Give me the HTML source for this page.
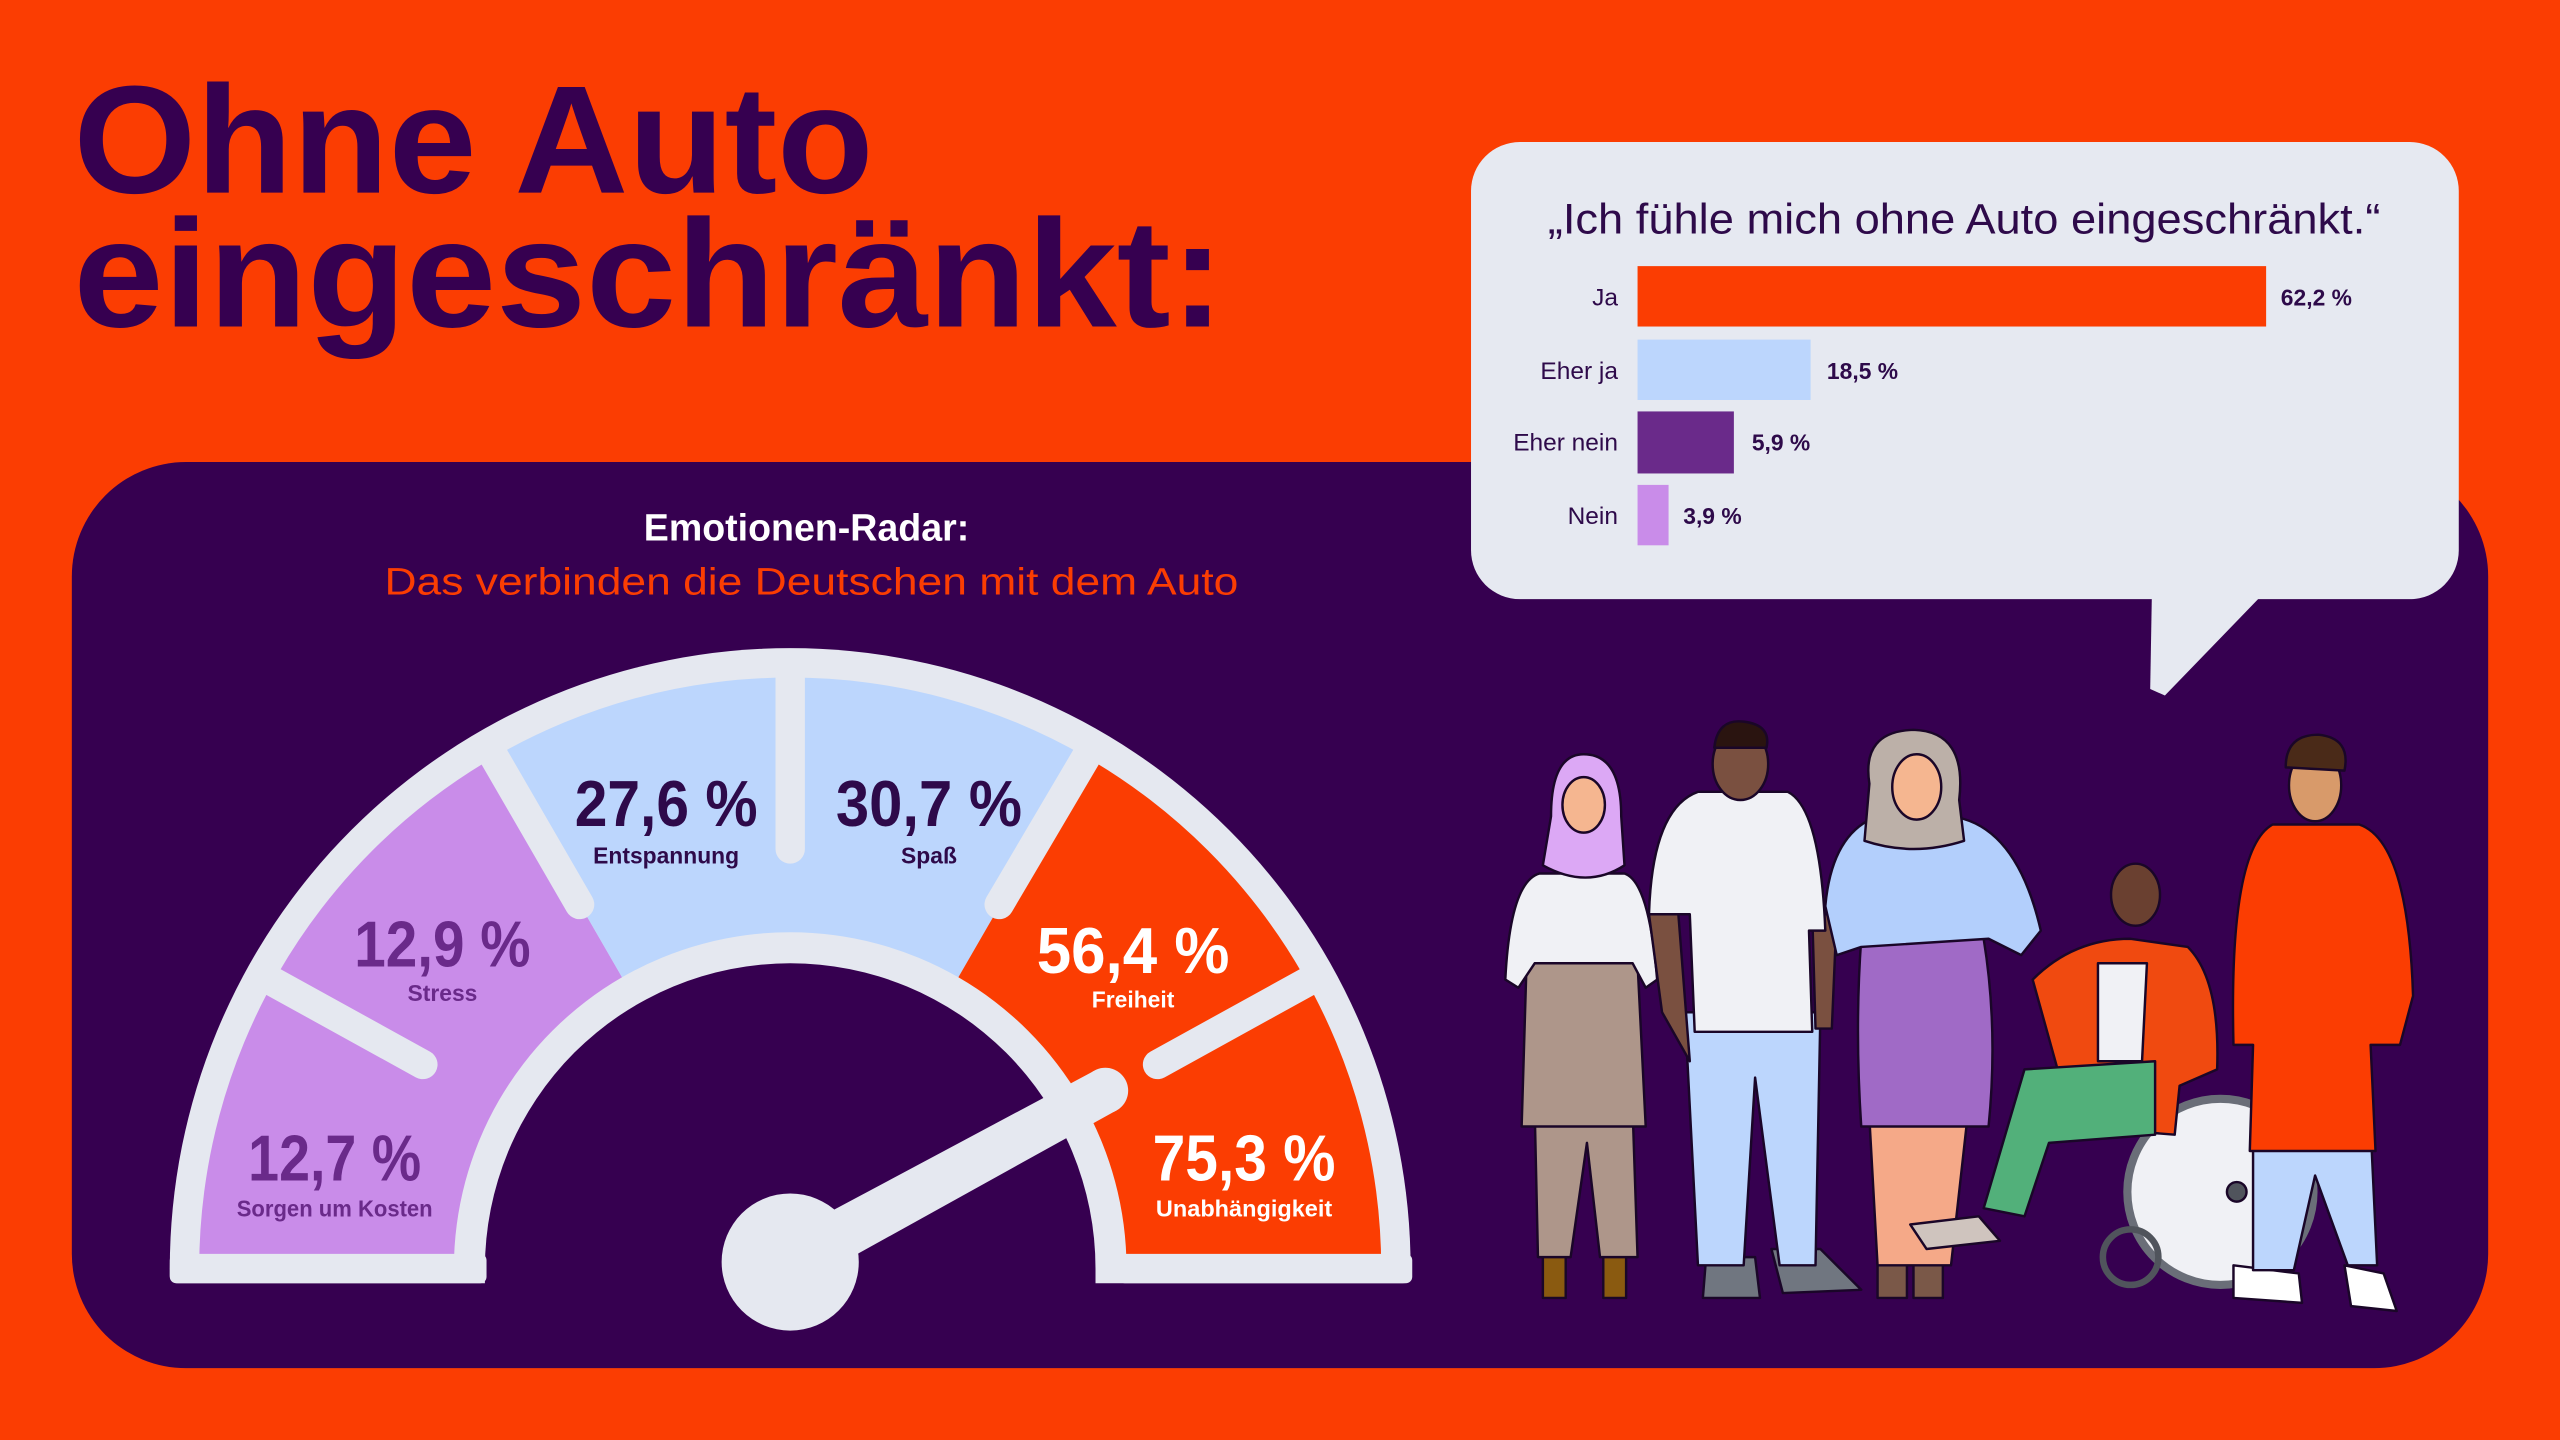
<!DOCTYPE html>
<html><head><meta charset="utf-8"><style>
html,body{margin:0;padding:0;background:#fb3d02;overflow:hidden;width:2560px;height:1440px;}
svg{display:block}
text{font-family:"Liberation Sans",sans-serif;}
</style></head><body>
<svg width="2560" height="1440" viewBox="0 0 1568 882" xmlns="http://www.w3.org/2000/svg">
<rect width="1568" height="882" fill="#fb3d02"/>
<text x="45" y="118" font-size="94" font-weight="bold" fill="#360050" textLength="490" lengthAdjust="spacingAndGlyphs">Ohne Auto</text>
<text x="45" y="200" font-size="94" font-weight="bold" fill="#360050" textLength="705" lengthAdjust="spacingAndGlyphs">eingeschränkt:</text>

<rect x="44" y="283" width="1480" height="555" rx="70" fill="#360050"/>

<!-- bubble -->
<rect x="901" y="87" width="605" height="280" rx="30" fill="#e6e9f1"/>
<polygon points="1318,365 1385,365 1326,426 1317,422" fill="#e6e9f1"/>
<text x="1203" y="143" font-size="26" fill="#2e0a4a" text-anchor="middle" textLength="510" lengthAdjust="spacingAndGlyphs">„Ich fühle mich ohne Auto eingeschränkt.“</text>
<g font-size="15" fill="#2e0a4a">
<rect x="1003" y="163" width="385" height="37" fill="#fb3d02"/>
<text x="991" y="187" text-anchor="end">Ja</text>
<text x="1397" y="187" font-weight="bold" font-size="14">62,2 %</text>
<rect x="1003" y="208" width="106" height="37" fill="#bcd6fd"/>
<text x="991" y="232" text-anchor="end">Eher ja</text>
<text x="1119" y="232" font-weight="bold" font-size="14">18,5 %</text>
<rect x="1003" y="252" width="59" height="38" fill="#6a2a8a"/>
<text x="991" y="276" text-anchor="end">Eher nein</text>
<text x="1073" y="276" font-weight="bold" font-size="14">5,9 %</text>
<rect x="1003" y="297" width="19" height="37" fill="#c98ce9"/>
<text x="991" y="321" text-anchor="end">Nein</text>
<text x="1031" y="321" font-weight="bold" font-size="14">3,9 %</text>
</g>

<text x="494" y="331" font-size="23" font-weight="bold" fill="#ffffff" text-anchor="middle">Emotionen-Radar:</text>
<text x="497" y="364" font-size="23" fill="#fb3d02" text-anchor="middle" textLength="523" lengthAdjust="spacingAndGlyphs">Das verbinden die Deutschen mit dem Auto</text>

<!-- gauge -->
<path d="M104,781 L104,777 A380,380 0 0 1 864,777 L864,781 Q864,786 859,786 L109,786 Q104,786 104,781 Z" fill="#e5e8f0"/>
<path d="M297,777 A187,187 0 0 1 671,777 L671,790 L297,790 Z" fill="#360050"/>
<path d="M122,777 A362,362 0 0 1 303,463.5 L381,598.6 A206,206 0 0 0 278,777 Z" fill="#c98ce9"/>
<path d="M303,463.5 A362,362 0 0 1 665,463.5 L587,598.6 A206,206 0 0 0 381,598.6 Z" fill="#bcd6fd"/>
<path d="M665,463.5 A362,362 0 0 1 846,777 L690,777 A206,206 0 0 0 587,598.6 Z" fill="#fb3d02"/>
<rect x="104" y="768" width="194" height="18" rx="4" fill="#e5e8f0"/>
<rect x="685" y="768" width="180" height="18" rx="4" fill="#e5e8f0"/>
<g stroke="#e5e8f0" stroke-width="18" stroke-linecap="round">
<line x1="163" y1="599" x2="259" y2="652"/>
<line x1="300" y1="459" x2="355" y2="554"/>
<line x1="484" y1="410" x2="484" y2="520"/>
<line x1="668" y1="459" x2="612" y2="554"/>
<line x1="805" y1="599" x2="709" y2="652"/>
</g>
<polygon points="491,787 477,759 670,656 684,680" fill="#e5e8f0"/>
<circle cx="677" cy="668" r="14" fill="#e5e8f0"/>
<circle cx="484" cy="773" r="42" fill="#e5e8f0"/>

<g font-weight="bold" text-anchor="middle">
<text x="408" y="506" font-size="40" fill="#2e0a4a" textLength="112" lengthAdjust="spacingAndGlyphs">27,6 %</text>
<text x="408" y="529" font-size="14" fill="#2e0a4a">Entspannung</text>
<text x="569" y="506" font-size="40" fill="#2e0a4a" textLength="114" lengthAdjust="spacingAndGlyphs">30,7 %</text>
<text x="569" y="529" font-size="14" fill="#2e0a4a">Spaß</text>
<text x="271" y="592" font-size="40" fill="#6a2a8a" textLength="108" lengthAdjust="spacingAndGlyphs">12,9 %</text>
<text x="271" y="613" font-size="14" fill="#6a2a8a">Stress</text>
<text x="694" y="596" font-size="40" fill="#ffffff" textLength="118" lengthAdjust="spacingAndGlyphs">56,4 %</text>
<text x="694" y="617" font-size="14" fill="#ffffff">Freiheit</text>
<text x="205" y="723" font-size="40" fill="#6a2a8a" textLength="106" lengthAdjust="spacingAndGlyphs">12,7 %</text>
<text x="205" y="745" font-size="14" fill="#6a2a8a" textLength="120" lengthAdjust="spacingAndGlyphs">Sorgen um Kosten</text>
<text x="762" y="723" font-size="40" fill="#ffffff" textLength="112" lengthAdjust="spacingAndGlyphs">75,3 %</text>
<text x="762" y="745" font-size="14" fill="#ffffff" textLength="108" lengthAdjust="spacingAndGlyphs">Unabhängigkeit</text>
</g>

<!-- people -->
<g stroke="#1a0628" stroke-width="1.5" stroke-linejoin="round">
<!-- 1 hijab woman -->
<rect x="945" y="765" width="14" height="30" fill="#8a5a10"/>
<rect x="982" y="765" width="14" height="30" fill="#8a5a10"/>
<path d="M940,680 L1000,680 L1003,770 L980,770 L972,700 L962,770 L942,770 Z" fill="#ae968a"/>
<path d="M935,590 L1003,590 L1008,690 L932,690 Z" fill="#ae968a"/>
<path d="M943,535 Q925,540 922,600 L930,605 L940,590 L1000,590 L1008,605 L1015,600 Q1010,540 995,535 Z" fill="#f0f1f5"/>
<path d="M950,500 Q950,462 970,462 Q993,462 993,500 L995,530 Q972,545 945,530 Z" fill="#dca8f5"/>
<ellipse cx="970" cy="493" rx="13" ry="17" fill="#f5b690"/>
<!-- 2 man -->
<path d="M1045,770 L1075,770 L1078,795 L1043,795 Z" fill="#707680"/>
<path d="M1085,765 L1115,765 L1140,790 L1092,792 Z" fill="#707680"/>
<path d="M1032,620 L1115,620 L1112,775 L1090,775 L1075,660 L1068,775 L1040,775 Z" fill="#bcd6fd"/>
<path d="M1018,620 L1010,560 L1028,560 L1035,650 Z" fill="#7a5040"/>
<path d="M1110,560 L1125,560 L1122,630 L1112,630 Z" fill="#7a5040"/>
<path d="M1040,485 L1095,485 Q1115,495 1118,570 L1108,570 L1110,632 L1038,632 L1035,560 L1010,560 Q1012,495 1040,485 Z" fill="#f0f1f5"/>
<ellipse cx="1066" cy="468" rx="17" ry="22" fill="#7a5040"/>
<path d="M1050,458 Q1052,440 1068,442 Q1085,444 1082,458 Z" fill="#2a1410"/>
<!-- 3 woman -->
<rect x="1150" y="770" width="18" height="25" fill="#7a5848"/>
<rect x="1172" y="770" width="18" height="25" fill="#7a5848"/>
<path d="M1145,685 L1205,685 L1195,775 L1150,775 Z" fill="#f5a988"/>
<path d="M1140,575 L1215,575 Q1224,630 1218,690 L1140,690 Q1136,630 1140,575 Z" fill="#a06ac6"/>
<path d="M1118,555 Q1122,510 1150,500 L1195,500 Q1235,505 1250,570 L1238,585 L1218,575 L1140,580 L1125,585 Z" fill="#b3cffc"/>
<path d="M1145,480 Q1140,448 1172,447 Q1205,448 1200,490 L1203,515 Q1172,525 1142,515 Z" fill="#bcb0a8"/>
<ellipse cx="1174" cy="482" rx="15" ry="20" fill="#f5b690"/>
<!-- 4 wheelchair -->
<circle cx="1360" cy="730" r="57" fill="#f0f1f5" stroke="#6a6e78" stroke-width="5"/>
<circle cx="1370" cy="730" r="6" fill="#50545c"/>
<circle cx="1305" cy="770" r="17" fill="none" stroke="#50545c" stroke-width="4"/>
<path d="M1245,600 Q1270,575 1305,575 L1340,580 Q1360,600 1358,655 L1335,665 L1332,695 L1270,690 Z" fill="#f04a10"/>
<path d="M1285,590 L1315,590 L1312,650 L1285,650 Z" fill="#f0f1f5"/>
<path d="M1240,655 L1320,650 L1320,695 L1255,700 L1240,745 L1215,740 Z" fill="#52b07a"/>
<path d="M1170,750 L1212,745 L1225,760 L1180,765 Z" fill="#cfc4be"/>
<ellipse cx="1308" cy="548" rx="15" ry="19" fill="#6a4030"/>
<!-- 5 man right -->
<path d="M1368,775 L1408,780 L1410,798 L1368,795 Z" fill="#ffffff"/>
<path d="M1436,775 L1460,780 L1468,803 L1440,800 Z" fill="#ffffff"/>
<path d="M1380,690 L1452,690 L1456,775 L1438,775 L1418,720 L1405,778 L1380,778 Z" fill="#bcd6fd"/>
<path d="M1392,505 L1445,505 Q1475,515 1478,610 L1470,640 L1452,640 L1455,705 L1378,705 L1380,640 L1368,640 Q1365,520 1392,505 Z" fill="#fb3d02"/>
<ellipse cx="1418" cy="481" rx="16" ry="22" fill="#d89a6a"/>
<path d="M1400,470 Q1400,450 1420,450 Q1440,452 1436,472 Z" fill="#4a2a18"/>
</g>
</svg>
</body></html>
